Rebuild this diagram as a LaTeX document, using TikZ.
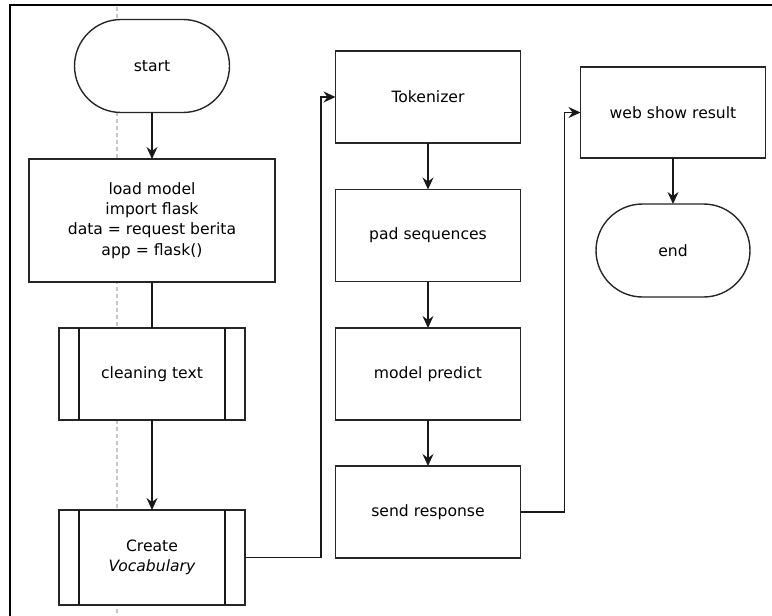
\documentclass[tikz,border=0pt]{standalone}
\usepackage{fontspec}
\setmainfont{DejaVu Sans}
\usetikzlibrary{arrows.meta}
\begin{document}
\begin{tikzpicture}[x=1pt,y=-1pt,
  every node/.style={font=\fontsize{15.6}{20.3}\selectfont, align=center, inner sep=0pt, outer sep=0pt},
  box/.style={draw=black!85, line width=1.4pt, fill=white, minimum width=185pt, minimum height=92pt},
  term/.style={box, rounded corners=46.5pt, minimum width=155pt, minimum height=93pt},
  subproc/.style={box, minimum width=186pt},
  link/.style={draw=black!90, line width=1.4pt},
  flow/.style={link, -{Stealth[length=12pt,width=11pt,inset=4pt]}},
  guide/.style={draw=black!22, line width=1.3pt, dash pattern=on 4pt off 3pt},
  frame/.style={draw=black, line width=2pt},
]
\useasboundingbox (0,0) rectangle (772,616);

% page frame and alignment guide
\draw[frame] (10,616) -- (10,5) -- (772,5);
\draw[guide] (117,7) -- (117,616);

% first column
\node[term] (start) at (152,66) {start};
\node[box, minimum width=246pt, minimum height=123pt] (load) at (152,220.5)
  {load model\\import flask\\data = request berita\\app = flask()};
\node[subproc] (clean) at (152,374) {cleaning text};
\node[subproc, minimum height=95pt] (vocab) at (152,557.5) {Create\\\textit{Vocabulary}};
\foreach \n in {clean,vocab}{
  \draw[link] ([xshift=20pt]\n.north west) -- ([xshift=20pt]\n.south west);
  \draw[link] ([xshift=-20pt]\n.north east) -- ([xshift=-20pt]\n.south east);
}

% second column
\node[box] (tok) at (428,97) {Tokenizer};
\node[box] (pad) at (428,235.5) {pad sequences};
\node[box] (pred) at (428,374) {model predict};
\node[box] (send) at (428,512) {send response};

% third column
\node[box, minimum height=91pt] (web) at (673,112.5) {web show result};
\node[term, minimum width=154pt] (end) at (673,250.5) {end};

% connectors
\draw[flow] (start) -- (load);
\draw[link] (load) -- (clean);
\draw[flow] (clean) -- (vocab);
\draw[flow] (vocab.east) -- ++(76,0) |- (tok.west);
\draw[flow] (tok) -- (pad);
\draw[flow] (pad) -- (pred);
\draw[flow] (pred) -- (send);
\draw[flow] (send.east) -- ++(44,0) |- (web.west);
\draw[flow] (web) -- (end);
\end{tikzpicture}
\end{document}
